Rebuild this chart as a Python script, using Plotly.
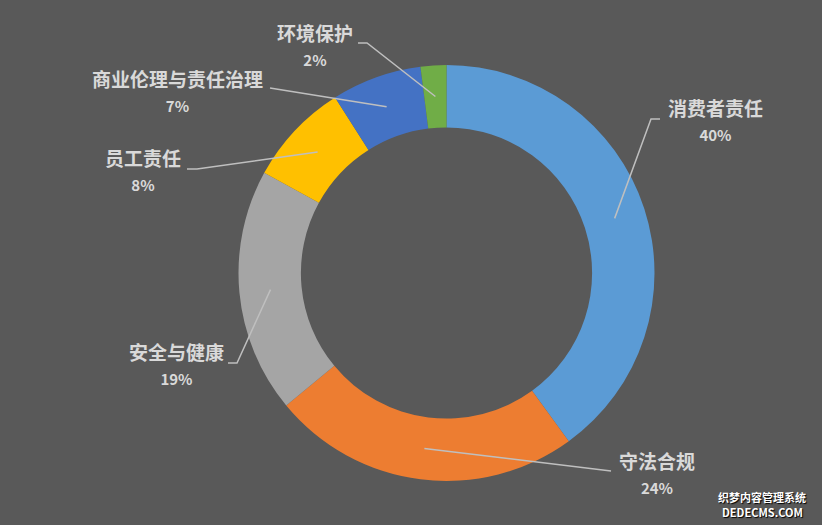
import numpy as np
import plotly.graph_objects as go

# --- data
categories = ["消费者责任", "守法合规", "安全与健康", "员工责任", "商业伦理与责任治理", "环境保护"]
values = [40, 24, 19, 8, 7, 2]
colors = ["#5B9BD5", "#ED7D31", "#A5A5A5", "#FFC000", "#4472C4", "#70AD47"]
watermark = ["织梦内容管理系统", "DEDECMS.COM"]

# --- layout (pixel space of the 822x525 page)
W, H = 822, 525
M_L, M_R, M_T, M_B = 238, 167, 65, 44
CX, CY = 446.5, 273.0
R_OUT, HOLE = 208.0, 0.70
R_MID = R_OUT * (1 + HOLE) / 2

# label block centre and leader path (outer elbow, end) per slice
label_pos = [(715, 119), (657, 472), (176, 363), (143, 169), (177, 90), (315, 44)]
leader_pts = [
    [(651, 119), (660, 119)],
    [(611, 471)],
    [(237, 363), (228, 363)],
    [(197, 169), (187, 169)],
    [(270, 88)],
    [(367, 43), (358, 43)],
]
watermark_pos = [(762, 497), (762, 512)]

TXT = "#D9D9D9"
LINE = "#BFBFBF"
FONT = "Noto Sans CJK SC"


def to_paper(x, y):
    pw = W - M_L - M_R
    ph = H - M_T - M_B
    return (x - M_L) / pw, (H - M_B - y) / ph


fig = go.Figure(go.Pie(
    labels=categories, values=values, hole=HOLE,
    sort=False, direction="clockwise", rotation=0,
    marker=dict(colors=colors, line=dict(width=0)),
    textinfo="none", hoverinfo="label+percent", showlegend=False,
))

total = sum(values)
cum = 0
shapes, annots = [], []
for name, v, (lx, ly), pts in zip(categories, values, label_pos, leader_pts):
    mid = (cum + v / 2) / total * 2 * np.pi
    cum += v
    sx = CX + R_MID * np.sin(mid)
    sy = CY - R_MID * np.cos(mid)
    path_pts = [(sx, sy)] + pts
    path = ""
    for i, (px, py) in enumerate(path_pts):
        ax, ay = to_paper(px, py)
        path += ("M" if i == 0 else " L") + f" {ax:.4f},{ay:.4f}"
    shapes.append(dict(type="path", path=path, xref="paper", yref="paper",
                       line=dict(color=LINE, width=1.5)))
    ax, ay = to_paper(lx, ly)
    pct = f"{round(v / total * 100)}%"
    annots.append(dict(
        x=ax, y=ay, xref="paper", yref="paper", showarrow=False,
        xanchor="center", yanchor="middle", align="center",
        text=f"<b>{name}</b><br><b><span style='font-size:15px'>{pct}</span></b>",
        font=dict(family=FONT, size=19, color=TXT),
    ))

# watermark
for txt, (px, py) in zip(watermark, watermark_pos):
    ax, ay = to_paper(px, py)
    annots.append(dict(
        x=ax, y=ay, xref="paper", yref="paper", showarrow=False,
        xanchor="center", yanchor="middle",
        text=f"<b>{txt}</b>",
        font=dict(family=FONT, size=11, color="white", shadow="1px 1px 1px black"),
    ))

fig.update_layout(
    width=W, height=H,
    paper_bgcolor="#595959", plot_bgcolor="#595959",
    margin=dict(l=M_L, r=M_R, t=M_T, b=M_B, pad=0),
    shapes=shapes, annotations=annots,
)

# drop the default page margin so the figure fills the window
fig.write_html("out.html", config={"displayModeBar": False},
               post_script="document.body.style.margin='0';")
